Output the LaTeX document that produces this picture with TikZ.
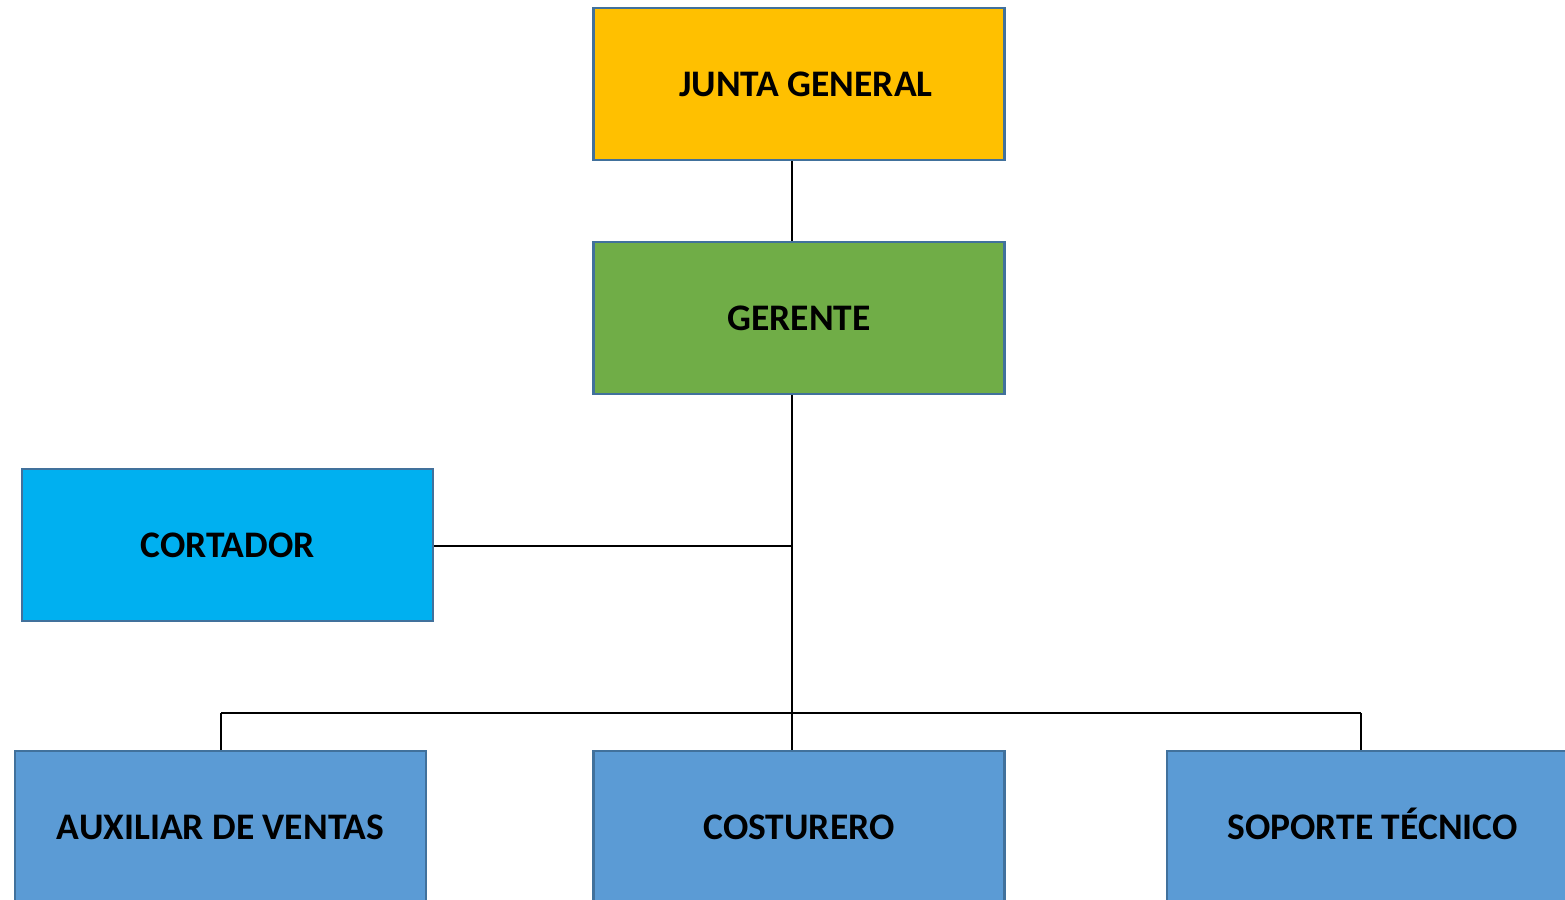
\documentclass[tikz,border=0pt]{standalone}
\usepackage{fontspec}
\setmainfont{Carlito}
\definecolor{cyellow}{HTML}{FFC000}
\definecolor{cgreen}{HTML}{70AD47}
\definecolor{ccyan}{HTML}{00B0F0}
\definecolor{cblue}{HTML}{5B9BD5}
\definecolor{cborder}{HTML}{41719C}
\tikzset{
  box/.style={draw=cborder, line width=2.5pt, minimum width=411pt, minimum height=152pt,
    inner sep=0pt, text height=24pt, text depth=0pt,
    font=\fontsize{37.5}{40}\selectfont\bfseries, text=black},
  conn/.style={draw=black, line width=1.3pt}
}
\begin{document}
\begin{tikzpicture}[x=1pt,y=-1pt]
\useasboundingbox (0,0) rectangle (1565,899);
\node[box, fill=cyellow] (junta) at (799,84) {\hspace*{14pt}JUNTA GENERAL};
\node[box, fill=cgreen] (gerente) at (799,318) {GERENTE};
\node[box, fill=ccyan] (cortador) at (227.5,545) {CORTADOR};
\node[box, fill=cblue] (aux) at (220.5,827) {AUXILIAR DE VENTAS};
\node[box, fill=cblue] (cost) at (799,827) {COSTURERO};
\node[box, fill=cblue] (sop) at (1372.5,827) {SOPORTE TÉCNICO};
\coordinate (spine) at (792,546);
\coordinate (bar) at (792,713);
\coordinate (auxtop) at (221,713);
\coordinate (soptop) at (1361,713);
\draw[conn] (junta.south -| spine) -- (gerente.north -| spine);
\draw[conn] (gerente.south -| spine) -- (cost.north -| spine);
\draw[conn] (cortador.east |- spine) -- (spine);
\draw[conn] (auxtop) -- (soptop);
\draw[conn] (auxtop) -- (aux.north -| auxtop);
\draw[conn] (soptop) -- (sop.north -| soptop);
\end{tikzpicture}
\end{document}
